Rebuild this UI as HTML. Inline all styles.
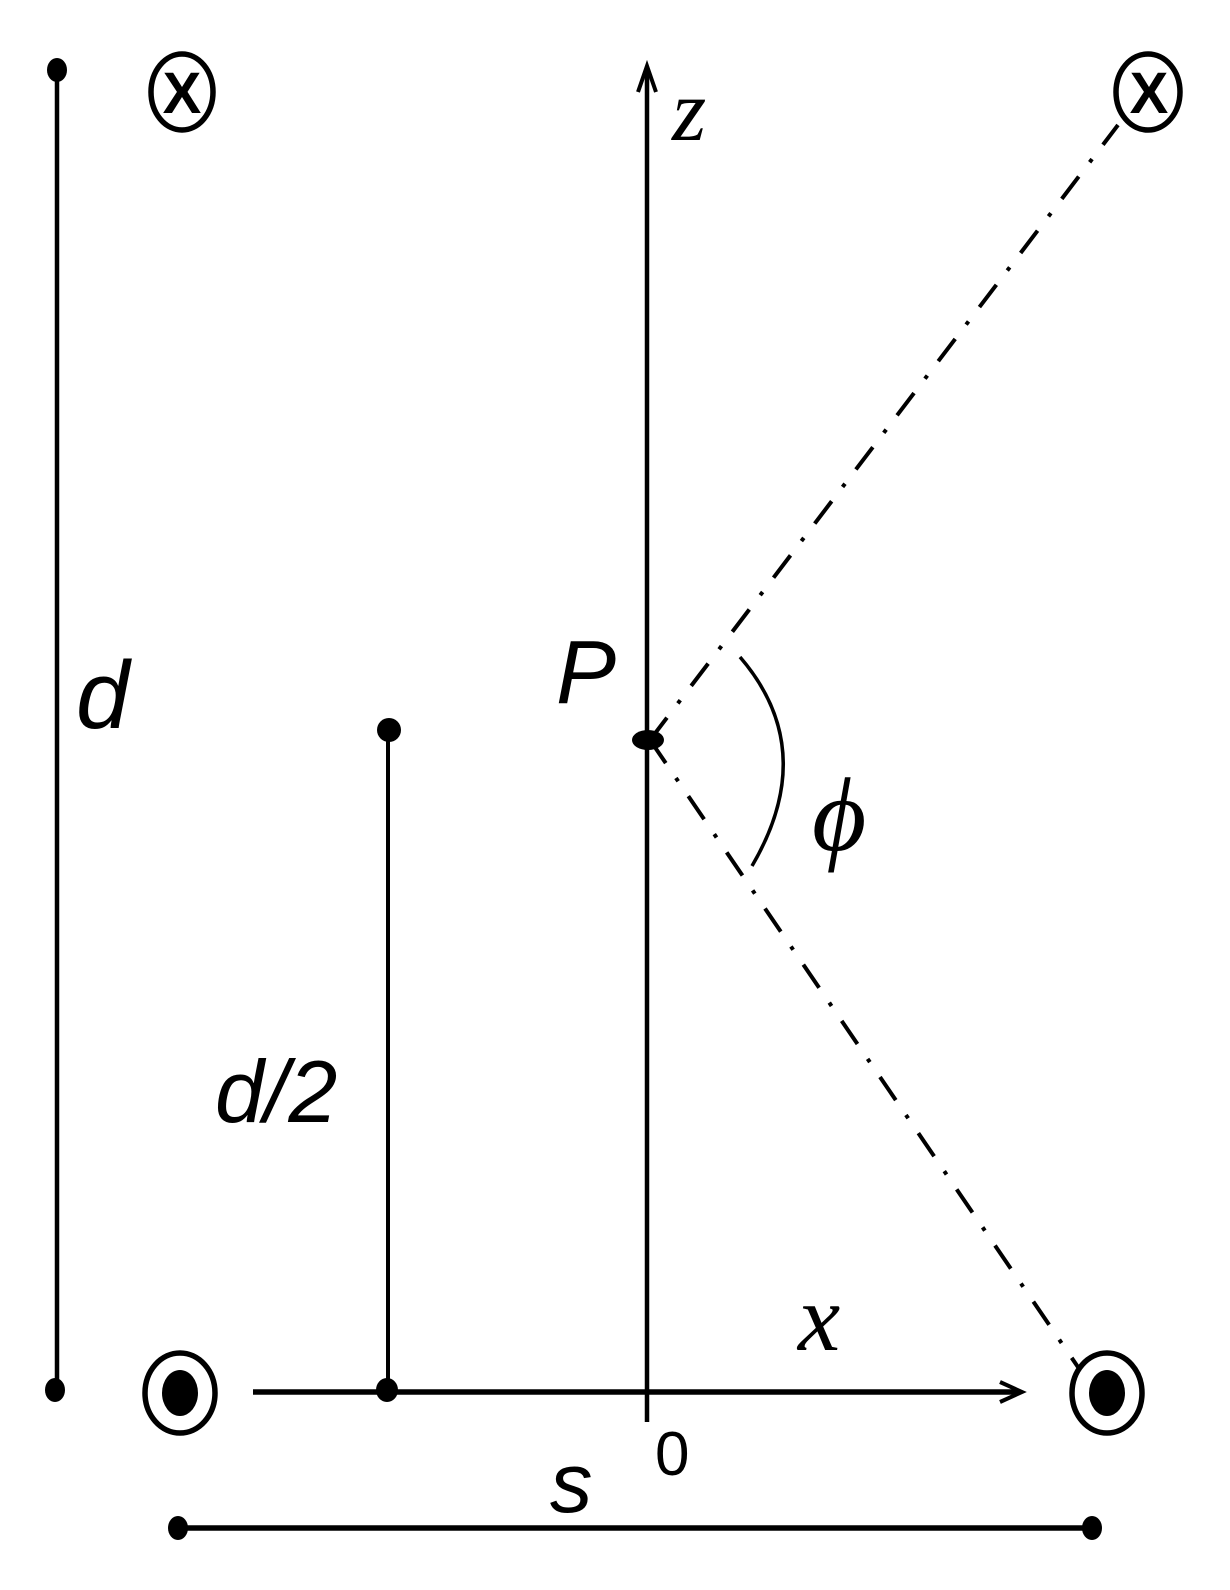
<!DOCTYPE html>
<html><head><style>
html,body{margin:0;padding:0;background:#fff;}
svg{display:block;}
.sans{font-family:"Liberation Sans",sans-serif;font-style:italic;}
.serif{font-family:"Liberation Serif",serif;font-style:italic;}
</style></head><body>
<svg width="1230" height="1590" viewBox="0 0 1230 1590" xmlns="http://www.w3.org/2000/svg">
<g stroke="#000" fill="none">
  <line x1="57" y1="70" x2="57" y2="1390" stroke-width="4.5"/>
  <line x1="388" y1="730" x2="388" y2="1390" stroke-width="4"/>
  <line x1="647" y1="72" x2="647" y2="1422" stroke-width="4.5"/>
  <polyline points="638,92 647,66 656,92" stroke-width="4"/>
  <line x1="253" y1="1392" x2="1018" y2="1392" stroke-width="5.5"/>
  <polyline points="1000,1382 1022,1392 1000,1402" stroke-width="4"/>
  <line x1="178" y1="1528" x2="1092" y2="1528" stroke-width="5.5"/>
  <line x1="650" y1="740" x2="1118" y2="125" stroke-width="4" stroke-dasharray="28,18,4,18"/>
  <line x1="650" y1="740" x2="1080" y2="1370" stroke-width="4" stroke-dasharray="28,18,4,18"/>
  <path d="M740,657 Q820,750 752,866" stroke-width="3.5"/>
  <ellipse cx="182" cy="92" rx="31" ry="38" stroke-width="5.5"/>
  <ellipse cx="1148" cy="92" rx="32" ry="38" stroke-width="5.5"/>
  <ellipse cx="180" cy="1393" rx="35" ry="40" stroke-width="5.5"/>
  <ellipse cx="1107" cy="1393" rx="35" ry="40" stroke-width="5.5"/>
</g>
<g fill="#000">
  <ellipse cx="57" cy="70" rx="10" ry="12"/>
  <ellipse cx="55" cy="1390" rx="10" ry="12"/>
  <circle cx="389" cy="730" r="12"/>
  <ellipse cx="387" cy="1390" rx="11" ry="12"/>
  <ellipse cx="648" cy="740" rx="16" ry="10"/>
  <ellipse cx="178" cy="1528" rx="10" ry="12"/>
  <ellipse cx="1092" cy="1528" rx="10" ry="12"/>
  <ellipse cx="180" cy="1393" rx="18" ry="23"/>
  <ellipse cx="1107" cy="1393" rx="18" ry="23"/>
</g>
<g font-family="Liberation Sans,sans-serif" font-weight="bold" font-size="58" text-anchor="middle">
  <text x="182" y="113">X</text>
  <text x="1149" y="113">X</text>
</g>
<text class="serif" x="672" y="140" font-size="88">z</text>
<text class="sans" x="76" y="728" font-size="96">d</text>
<text class="sans" x="215" y="1122" font-size="88">d/2</text>
<text class="sans" x="556" y="703" font-size="90">P</text>
<text class="serif" x="812" y="850" font-size="105">ϕ</text>
<text class="serif" x="798" y="1350" font-size="95">x</text>
<text font-family="Liberation Sans,sans-serif" x="655" y="1475" font-size="62">0</text>
<text class="sans" x="550" y="1512" font-size="85">s</text>
</svg>
</body></html>
